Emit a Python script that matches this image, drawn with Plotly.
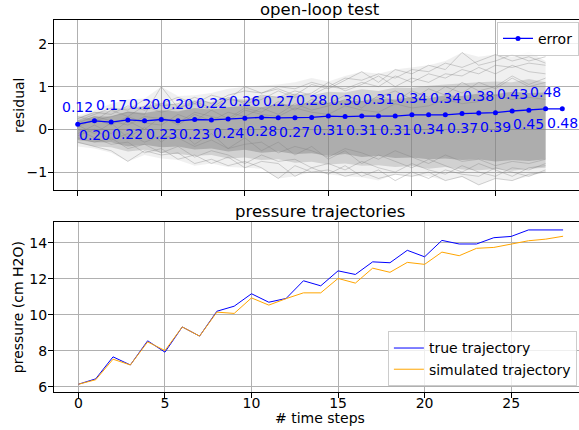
import plotly.graph_objects as go

# ---- data ----
steps = list(range(29))          # simulated / true trajectory steps
err_steps = list(range(30))      # error curve steps

error = [0.12, 0.20, 0.17, 0.22, 0.20, 0.23, 0.20, 0.23, 0.22, 0.24,
         0.26, 0.28, 0.27, 0.27, 0.28, 0.31, 0.30, 0.31, 0.31, 0.31,
         0.34, 0.34, 0.34, 0.37, 0.38, 0.39, 0.43, 0.45, 0.48, 0.48]

true_traj = [6.15, 6.45, 7.67, 7.22, 8.56, 7.93, 9.33, 8.82, 10.2, 10.48,
             11.17, 10.7, 10.91, 11.89, 11.61, 12.44, 12.24, 12.94, 12.89, 13.58,
             13.22, 14.13, 13.93, 13.93, 14.28, 14.35, 14.71, 14.71, 14.71]
sim_traj = [6.15, 6.40, 7.54, 7.22, 8.50, 8.02, 9.33, 8.82, 10.15, 10.08,
            10.94, 10.54, 10.9, 11.22, 11.22, 12.02, 11.76, 12.59, 12.36, 12.91,
            12.8, 13.48, 13.28, 13.69, 13.74, 13.94, 14.11, 14.2, 14.36]

# residual cloud (many runs) summarised as envelopes
outer_hi = [0.32, 0.45, 0.6, 0.7, 0.72, 1.0, 0.78, 0.8, 0.85, 0.95,
            1.0, 1.02, 1.05, 1.1, 1.2, 1.12, 1.25, 1.35, 1.3, 1.4,
            1.45, 1.5, 1.6, 1.8, 1.7, 1.75, 1.7, 1.82, 1.6]
outer_lo = [-0.4, -0.45, -0.55, -0.75, -0.6, -0.68, -0.72, -0.85, -0.8, -0.88,
            -0.9, -0.92, -1.15, -1.1, -1.0, -1.05, -1.1, -1.12, -1.2, -1.05,
            -1.1, -1.1, -1.2, -1.12, -1.3, -1.15, -1.2, -1.1, -1.0]
mid_hi = [0.28, 0.4, 0.44, 0.52, 0.54, 0.62, 0.58, 0.68, 0.64, 0.72,
          0.7, 0.78, 0.76, 0.84, 0.8, 0.88, 0.86, 0.94, 0.9, 0.98,
          0.97, 1.02, 1.05, 1.08, 1.1, 1.12, 1.1, 1.18, 1.1]
mid_lo = [-0.32, -0.4, -0.42, -0.52, -0.48, -0.55, -0.58, -0.62, -0.6, -0.68,
          -0.66, -0.72, -0.7, -0.78, -0.76, -0.82, -0.8, -0.85, -0.84, -0.88,
          -0.86, -0.92, -0.88, -0.94, -0.96, -0.93, -0.97, -0.92, -0.9]
core_hi = [0.2, 0.3, 0.3, 0.42, 0.38, 0.45, 0.42, 0.5, 0.46, 0.52,
           0.55, 0.52, 0.6, 0.57, 0.64, 0.62, 0.68, 0.66, 0.72, 0.7,
           0.76, 0.73, 0.8, 0.78, 0.84, 0.82, 0.88, 0.85, 0.86]
core_lo = [-0.25, -0.3, -0.3, -0.4, -0.36, -0.42, -0.4, -0.47, -0.45, -0.52,
           -0.48, -0.55, -0.52, -0.58, -0.56, -0.62, -0.58, -0.65, -0.62, -0.67,
           -0.66, -0.7, -0.68, -0.72, -0.7, -0.75, -0.72, -0.74, -0.7]

# a few individual runs for texture
runs = [
    [0.2, 0.35, 0.5, 0.45, 0.7, 0.55, 0.6, 0.75, 0.6, 0.8, 0.9, 0.85, 1.0, 0.95, 1.1,
     1.0, 1.2, 1.15, 1.3, 1.2, 1.4, 1.35, 1.55, 1.45, 1.6, 1.75, 1.6, 1.7, 1.55],
    [0.1, 0.2, 0.3, 0.4, 0.35, 1.0, 0.5, 0.6, 0.45, 0.7, 0.65, 0.8, 0.75, 0.9, 0.8,
     1.0, 0.95, 1.1, 1.0, 1.25, 1.1, 1.3, 1.2, 1.4, 1.3, 1.5, 1.45, 1.55, 1.5],
    [-0.3, -0.4, -0.5, -0.75, -0.5, -0.6, -0.55, -0.8, -0.7, -0.85, -0.75, -0.9, -1.15, -0.85, -1.0,
     -0.95, -1.1, -1.0, -1.15, -1.05, -1.1, -1.0, -1.2, -1.1, -1.3, -1.15, -1.2, -1.05, -1.0],
    [0.0, -0.2, -0.35, -0.3, -0.55, -0.45, -0.7, -0.6, -0.8, -0.65, -0.9, -0.75, -0.8, -1.1, -0.9,
     -1.05, -0.85, -1.1, -0.95, -1.2, -1.0, -1.15, -0.95, -1.05, -1.1, -0.9, -1.0, -1.1, -0.95],
    [0.25, 0.4, 0.35, 0.55, 0.45, 0.6, 0.75, 0.6, 0.8, 0.7, 1.0, 0.85, 0.95, 0.8, 1.05,
     0.95, 1.15, 1.35, 1.1, 1.4, 1.3, 1.5, 1.4, 1.8, 1.5, 1.6, 1.75, 1.6, 1.7],
    [-0.1, 0.1, -0.1, 0.2, 0.0, 0.3, 0.1, 0.35, 0.2, 0.4, 0.3, 0.5, 0.35, 0.6, 0.45,
     0.55, 0.7, 0.5, 0.8, 0.65, 0.9, 0.75, 1.0, 0.85, 1.1, 0.95, 1.2, 1.0, 1.1],
    [0.1, -0.1, 0.15, -0.2, 0.05, -0.3, 0.0, -0.35, -0.1, -0.45, -0.2, -0.5, -0.3, -0.6, -0.4,
     -0.7, -0.5, -0.8, -0.6, -0.75, -0.9, -0.7, -0.85, -1.0, -0.8, -0.95, -1.1, -0.9, -0.85],
    [0.3, 0.2, 0.45, 0.3, 0.55, 0.4, 0.5, 0.65, 0.5, 0.75, 0.6, 0.7, 0.9, 0.75, 0.85,
     1.1, 0.9, 1.05, 1.25, 1.0, 1.2, 1.1, 1.3, 1.25, 1.45, 1.3, 1.5, 1.35, 1.3],
    [-0.2, -0.3, -0.2, -0.45, -0.35, -0.55, -0.4, -0.65, -0.5, -0.6, -0.8, -0.6, -0.75, -0.7, -0.9,
     -0.8, -0.95, -0.75, -0.9, -1.0, -0.8, -0.95, -1.05, -0.85, -1.0, -1.1, -0.9, -0.95, -0.8],
    [0.05, 0.25, 0.1, 0.3, 0.15, 0.1, 0.35, 0.2, 0.45, 0.25, 0.5, 0.4, 0.65, 0.45, 0.7,
     0.6, 0.8, 0.65, 0.75, 0.9, 0.7, 0.95, 0.8, 1.1, 0.9, 1.0, 1.25, 1.05, 1.2],
    [-0.15, 0.0, -0.25, -0.1, -0.3, -0.15, -0.2, -0.4, -0.25, -0.45, -0.35, -0.3, -0.55, -0.4, -0.5,
     -0.65, -0.45, -0.55, -0.7, -0.5, -0.65, -0.8, -0.6, -0.75, -0.7, -0.85, -0.75, -0.8, -0.7],
    [0.15, 0.3, 0.2, 0.1, 0.3, 0.25, 0.15, 0.4, 0.3, 0.2, 0.45, 0.35, 0.3, 0.5, 0.4,
     0.35, 0.55, 0.45, 0.4, 0.6, 0.5, 0.55, 0.7, 0.6, 0.65, 0.8, 0.7, 0.75, 0.7],
]

FONT = "DejaVu Sans"
fig = go.Figure()

def band(hi, lo, color):
    fig.add_trace(go.Scatter(x=steps + steps[::-1], y=hi + lo[::-1], fill="toself",
                             fillcolor=color, line=dict(width=0), mode="lines",
                             hoverinfo="skip", showlegend=False, xaxis="x", yaxis="y"))

band(outer_hi, outer_lo, "rgba(128,128,128,0.12)")
band(mid_hi, mid_lo, "rgba(128,128,128,0.28)")
band(core_hi, core_lo, "rgba(128,128,128,0.45)")
for r in runs:
    fig.add_trace(go.Scatter(x=steps, y=r, mode="lines", line=dict(color="rgba(128,128,128,0.35)", width=1),
                             showlegend=False, hoverinfo="skip", xaxis="x", yaxis="y"))

fig.add_trace(go.Scatter(x=err_steps, y=error, mode="lines+markers", name="error",
                         line=dict(color="blue", width=1.3), marker=dict(color="blue", size=5),
                         xaxis="x", yaxis="y", legend="legend"))

# value labels, alternating above / below
for i, v in enumerate(error):
    fig.add_annotation(x=i, y=v, xref="x", yref="y", text=f"{v:.2f}", showarrow=False,
                       yanchor="middle", yshift=17 if i % 2 == 0 else -14,
                       font=dict(color="blue", size=14, family=FONT))

fig.add_trace(go.Scatter(x=steps, y=true_traj, mode="lines", name="true trajectory",
                         line=dict(color="blue", width=1), xaxis="x2", yaxis="y2", legend="legend2"))
fig.add_trace(go.Scatter(x=steps, y=sim_traj, mode="lines", name="simulated trajectory",
                         line=dict(color="orange", width=1), xaxis="x2", yaxis="y2", legend="legend2"))

axis_style = dict(showline=True, mirror=True, linecolor="black", linewidth=1,
                  showgrid=True, gridcolor="#b0b0b0", gridwidth=1, zeroline=False,
                  ticks="outside", ticklen=5, tickcolor="black",
                  tickfont=dict(size=14, family=FONT, color="black"))

def label(text, x, y, angle=0, size=14):
    return dict(text=text, x=x, y=y, xref="paper", yref="paper", showarrow=False,
                textangle=angle, xanchor="center", yanchor="middle", font=dict(size=size, family=FONT))

fig.update_layout(
    width=579, height=430,
    margin=dict(l=54, r=0, t=20, b=38),
    paper_bgcolor="white", plot_bgcolor="white",
    font=dict(family=FONT, size=14, color="black"),
    xaxis=dict(domain=[0, 1], range=[-1.42, 30.0], anchor="y", tickvals=[0, 5, 10, 15, 20, 25],
               showticklabels=False, **axis_style),
    yaxis=dict(domain=[0.543, 1], range=[-1.42, 2.56], anchor="x", tickvals=[-1, 0, 1, 2],
               ticklabelstandoff=-2, **axis_style),
    xaxis2=dict(domain=[0, 1], range=[-1.41, 28.92], anchor="y2", tickvals=[0, 5, 10, 15, 20, 25],
                ticklabelstandoff=-7, **axis_style),
    yaxis2=dict(domain=[0, 0.456], range=[5.72, 15.13], anchor="x2", tickvals=[6, 8, 10, 12, 14],
                ticklabelstandoff=-2, **axis_style),
    legend=dict(x=0.844, y=0.995, xanchor="left", yanchor="top", bgcolor="rgba(255,255,255,0.8)",
                bordercolor="#cccccc", borderwidth=1, font=dict(size=14)),
    legend2=dict(x=0.636, y=0.015, xanchor="left", yanchor="bottom", bgcolor="rgba(255,255,255,0.8)",
                 bordercolor="#cccccc", borderwidth=1, font=dict(size=14)),
    annotations=list(fig.layout.annotations) + [
        dict(text="open-loop test", x=0.507, y=1.0, xref="paper", yref="paper", yanchor="bottom",
             yshift=-1, showarrow=False, font=dict(size=16.5, family=FONT)),
        dict(text="pressure trajectories", x=0.507, y=0.456, xref="paper", yref="paper", yanchor="bottom",
             yshift=-1, showarrow=False, font=dict(size=16.5, family=FONT)),
        label("residual", -0.0667, 0.7715, angle=-90),
        label("pressure (cm H2O)", -0.0686, 0.228, angle=-90),
        label("# time steps", 0.507, -0.0708),
    ],
)

# page body has a default 8px margin; drop it so the 579x430 figure fits the window
fig.write_html("out.html", config={"displayModeBar": False},
               post_script="document.body.style.margin='0';")
